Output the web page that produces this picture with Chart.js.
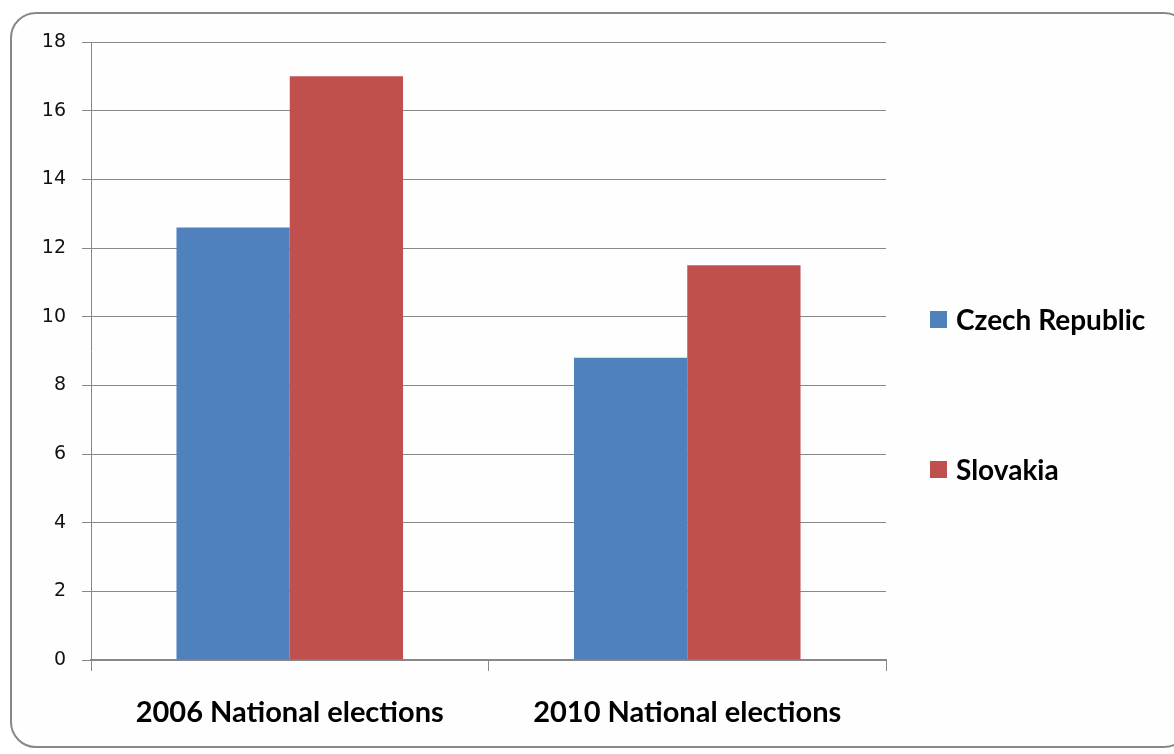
<!DOCTYPE html>
<html>
<head>
<meta charset="utf-8">
<script src="https://cdn.jsdelivr.net/npm/chart.js@4"></script>
<style>
  html, body { margin: 0; padding: 0; background: #ffffff; }
  body { width: 1174px; height: 754px; position: relative; overflow: hidden; }
  #frame { position: absolute; left: 10px; top: 12px; width: 1180px; height: 736px;
           border: 2px solid #888888; border-radius: 26px; background: #fefefe; box-sizing: border-box; }
  #wrap { position: absolute; left: 0; top: 0; width: 1174px; height: 754px; }
  .leg { position: absolute; left: 930px; font-family: "Lato", "Open Sans", sans-serif; font-weight: bold;
         font-size: 28px; color: #000; display: flex; align-items: center; white-space: nowrap; height: 30px; }
  .sw { width: 17px; height: 17px; margin-right: 9px; display: inline-block; }
</style>
</head>
<body>
<div id="frame"></div>
<div id="wrap"><canvas id="c" width="1174" height="754"></canvas></div>
<div class="leg" id="leg0" style="top:304px;"><span class="sw" id="sw0"></span><span id="lt0"></span></div>
<div class="leg" id="leg1" style="top:454px;"><span class="sw" id="sw1"></span><span id="lt1"></span></div>
<script>
const categories = ["2006 National elections", "2010 National elections"];
const seriesNames = ["Czech Republic", "Slovakia"];
const czechValues = [12.6, 8.8];
const slovakiaValues = [17.0, 11.5];
const yTicks = [0, 2, 4, 6, 8, 10, 12, 14, 16, 18];
const colors = ["#4F81BD", "#C0504D"];

document.getElementById('sw0').style.background = colors[0];
document.getElementById('sw1').style.background = colors[1];
document.getElementById('lt0').textContent = seriesNames[0];
document.getElementById('lt1').textContent = seriesNames[1];

new Chart(document.getElementById('c'), {
  type: 'bar',
  data: {
    labels: categories,
    datasets: [
      { label: seriesNames[0], data: czechValues, backgroundColor: colors[0], borderWidth: 0 },
      { label: seriesNames[1], data: slovakiaValues, backgroundColor: colors[1], borderWidth: 0 }
    ]
  },
  options: {
    responsive: false,
    animation: false,
    devicePixelRatio: 1,
    categoryPercentage: 0.57,
    barPercentage: 1.0,
    layout: { padding: { left: 0, right: 288, top: 42, bottom: 0 } },
    plugins: { legend: { display: false }, tooltip: { enabled: false } },
    scales: {
      x: {
        grid: { display: true, drawOnChartArea: false, drawTicks: true, tickLength: 11, color: '#888888', offset: true },
        border: { display: true, color: '#888888', width: 2 },
        ticks: { color: '#000', padding: 24, font: { family: 'Lato, "Open Sans", sans-serif', size: 29, weight: 'bold' } },
        afterFit: (s) => { s.height = 94; }
      },
      y: {
        min: 0, max: 18,
        afterBuildTicks: (s) => { s.ticks = yTicks.map(v => ({ value: v })); },
        grid: { color: '#888888', lineWidth: 1, tickLength: 9, drawTicks: true },
        border: { display: true, color: '#888888', width: 1 },
        ticks: { color: '#111', padding: 16, font: { family: '"DejaVu Sans", sans-serif', size: 19 } },
        afterFit: (s) => { s.width = 91; }
      }
    }
  }
});
</script>
</body>
</html>
